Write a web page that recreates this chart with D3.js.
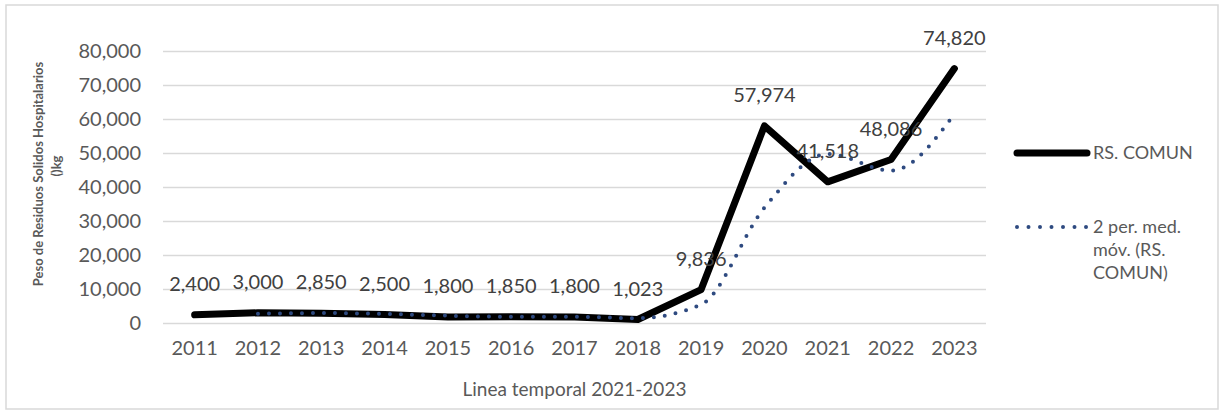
<!DOCTYPE html>
<html>
<head>
<meta charset="utf-8">
<script src="https://cdn.jsdelivr.net/npm/d3@7"></script>
<style>
  html, body { margin: 0; padding: 0; background: #fff; }
  svg { display: block; font-family: Lato, "Noto Sans", sans-serif; }
</style>
</head>
<body>
<div id="chart"></div>
<script>
// datos
const years   = ['2011', '2012', '2013', '2014', '2015', '2016', '2017', '2018', '2019', '2020', '2021', '2022', '2023'];
const comun   = [2400, 3000, 2850, 2500, 1800, 1850, 1800, 1023, 9836, 57974, 41518, 48086, 74820];
// media móvil de 2 períodos (empieza en 2012)
const mediaYears = ['2012', '2013', '2014', '2015', '2016', '2017', '2018', '2019', '2020', '2021', '2022', '2023'];
const media      = [2700, 2925, 2675, 2150, 1825, 1825, 1412, 5430, 33905, 49746, 44802, 61453];
const yTicks  = [0, 10000, 20000, 30000, 40000, 50000, 60000, 70000, 80000];

const COLORS = { line: '#000000', media: '#2e4a80', grid: '#d9d9d9', text: '#595959', label: '#404040' };

const W = 1226, H = 415;
const M = { top: 51, left: 163, right: 240, bottom: 92 };
const iW = W - M.left - M.right;
const iH = H - M.top - M.bottom;

const svg = d3.select('#chart').append('svg')
  .attr('width', W).attr('height', H);

svg.append('rect')
  .attr('x', 6).attr('y', 5).attr('width', 1212).attr('height', 404)
  .attr('fill', '#fff').attr('stroke', '#d9d9d9').attr('stroke-width', 1.5);

const g = svg.append('g').attr('transform', `translate(${M.left},${M.top})`);

const x = d3.scaleBand().domain(years).range([0, iW]).padding(0);
const cx = d => x(d) + x.bandwidth() / 2;
const y = d3.scaleLinear().domain([0, 80000]).range([iH, 0]);

// rejilla + eje Y
g.append('g')
  .call(d3.axisLeft(y).tickValues(yTicks).tickSize(-iW).tickPadding(22).tickFormat(d3.format(',')))
  .call(ax => ax.select('.domain').remove())
  .call(ax => ax.selectAll('line').attr('stroke', COLORS.grid).attr('stroke-width', 1.5))
  .call(ax => ax.selectAll('text').attr('fill', COLORS.text).attr('font-size', 20).attr('font-family', 'Lato'));

// eje X
g.append('g').attr('transform', `translate(0,${iH})`)
  .call(d3.axisBottom(x).tickSize(0).tickPadding(18))
  .call(ax => ax.select('.domain').remove())
  .call(ax => ax.selectAll('text').attr('fill', COLORS.text).attr('font-size', 20).attr('font-family', 'Lato'));

// serie principal
const lineComun = d3.line().x((d, i) => cx(years[i])).y(d => y(d));
g.append('path')
  .attr('d', lineComun(comun))
  .attr('fill', 'none').attr('stroke', COLORS.line)
  .attr('stroke-width', 7).attr('stroke-linecap', 'round').attr('stroke-linejoin', 'round');

// media móvil (punteada, encima)
const lineMedia = d3.line()
  .x((d, i) => cx(mediaYears[i]))
  .y(d => y(d))
  .curve(d3.curveMonotoneX);
g.append('path')
  .attr('d', lineMedia(media))
  .attr('fill', 'none').attr('stroke', COLORS.media)
  .attr('stroke-width', 4).attr('stroke-linecap', 'round')
  .attr('stroke-dasharray', '0 11');

// etiquetas de datos
g.selectAll('.lbl').data(comun).join('text')
  .attr('class', 'lbl')
  .attr('x', (d, i) => cx(years[i]))
  .attr('y', d => y(d) - 24)
  .attr('text-anchor', 'middle')
  .attr('fill', COLORS.label).attr('font-size', 20)
  .text(d => d3.format(',')(d));

// títulos de ejes
svg.append('text')
  .attr('x', M.left + iW / 2).attr('y', 396)
  .attr('text-anchor', 'middle').attr('fill', COLORS.text).attr('font-size', 19)
  .text('Linea temporal 2021-2023');

const yt = svg.append('text')
  .attr('transform', 'translate(43,174) rotate(-90)')
  .attr('text-anchor', 'middle').attr('fill', COLORS.text)
  .attr('font-size', 13).attr('font-weight', 'bold');
yt.append('tspan').attr('x', 0).attr('dy', 0).text('Peso de Residuos Solidos Hospitalarios');
yt.append('tspan').attr('x', 8).attr('dy', 18).text('()kg');

// leyenda
const lg = svg.append('g').attr('transform', 'translate(1015,0)');
lg.append('line').attr('x1', 2).attr('x2', 72).attr('y1', 153).attr('y2', 153)
  .attr('stroke', COLORS.line).attr('stroke-width', 7).attr('stroke-linecap', 'round');
lg.append('text').attr('x', 78).attr('y', 159)
  .attr('fill', COLORS.text).attr('font-size', 18).text('RS. COMUN');
lg.append('line').attr('x1', 2).attr('x2', 72).attr('y1', 227).attr('y2', 227)
  .attr('stroke', COLORS.media).attr('stroke-width', 4).attr('stroke-linecap', 'round')
  .attr('stroke-dasharray', '0 11.5');
const lt = lg.append('text').attr('fill', COLORS.text).attr('font-size', 18);
['2 per. med.', 'móv. (RS.', 'COMUN)'].forEach((s, i) => {
  lt.append('tspan').attr('x', 78).attr('y', 233 + i * 23).text(s);
});
</script>
</body>
</html>
